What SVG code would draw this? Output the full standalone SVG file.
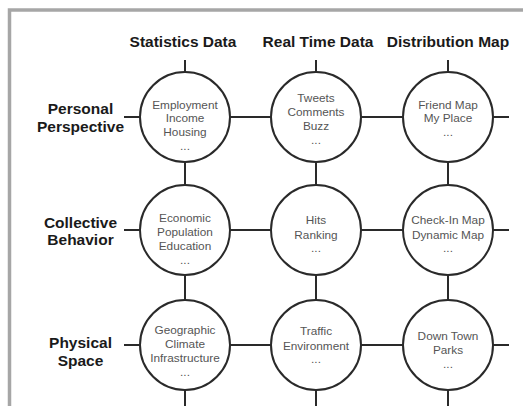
<svg xmlns="http://www.w3.org/2000/svg" width="523" height="406" viewBox="0 0 523 406">
  <style>
    .frame { stroke: #a6a6a6; stroke-width: 3.5; fill: none; }
    .head { font-family: "Liberation Sans", Arial, sans-serif; font-weight: bold; font-size: 15.5px; fill: #1a1a1a; text-anchor: middle; }
    .node circle { fill: #ffffff; stroke: #2a2a2a; stroke-width: 2; }
    .node text { font-family: "Liberation Sans", Arial, sans-serif; font-size: 11.8px; fill: #555555; text-anchor: middle; }
    .conn line { stroke: #2a2a2a; stroke-width: 2; }
  </style>

  <rect width="523" height="406" fill="#ffffff"/>

  <!-- outer frame, open to the right and bottom -->
  <polyline class="frame" points="9.5,406 9.5,10 523,10"/>

  <!-- column headings -->
  <g id="col-headings">
    <text class="head" x="183" y="47">Statistics Data</text>
    <text class="head" x="318" y="47">Real Time Data</text>
    <text class="head" x="448" y="47">Distribution Map</text>
  </g>

  <!-- row headings -->
  <g id="row-headings">
    <text class="head" x="80.5" y="114">Personal</text>
    <text class="head" x="80.5" y="132">Perspective</text>
    <text class="head" x="80.5" y="228">Collective</text>
    <text class="head" x="80.5" y="245">Behavior</text>
    <text class="head" x="80.5" y="348">Physical</text>
    <text class="head" x="80.5" y="366">Space</text>
  </g>

  <!-- grid connectors -->
  <g id="connectors" class="conn">
    <!-- row 1 -->
    <line x1="124" y1="117" x2="140" y2="117"/>
    <line x1="230" y1="117" x2="271" y2="117"/>
    <line x1="361" y1="117" x2="403" y2="117"/>
    <line x1="493" y1="117" x2="509" y2="117"/>
    <!-- row 2 -->
    <line x1="124" y1="230" x2="140" y2="230"/>
    <line x1="230" y1="230" x2="271" y2="230"/>
    <line x1="361" y1="230" x2="403" y2="230"/>
    <line x1="493" y1="230" x2="509" y2="230"/>
    <!-- row 3 -->
    <line x1="124" y1="345" x2="140" y2="345"/>
    <line x1="230" y1="345" x2="271" y2="345"/>
    <line x1="361" y1="345" x2="403" y2="345"/>
    <line x1="493" y1="345" x2="509" y2="345"/>
    <!-- column 1 -->
    <line x1="185" y1="60" x2="185" y2="72"/>
    <line x1="185" y1="162" x2="185" y2="185"/>
    <line x1="185" y1="275" x2="185" y2="300"/>
    <line x1="185" y1="390" x2="185" y2="406"/>
    <!-- column 2 -->
    <line x1="316" y1="60" x2="316" y2="72"/>
    <line x1="316" y1="162" x2="316" y2="185"/>
    <line x1="316" y1="275" x2="316" y2="300"/>
    <line x1="316" y1="390" x2="316" y2="406"/>
    <!-- column 3 -->
    <line x1="448" y1="60" x2="448" y2="72"/>
    <line x1="448" y1="162" x2="448" y2="185"/>
    <line x1="448" y1="275" x2="448" y2="300"/>
    <line x1="448" y1="390" x2="448" y2="406"/>
  </g>

  <!-- row 1 nodes -->
  <g id="node-personal-statistics" class="node">
    <circle cx="185" cy="117" r="45"/>
    <text x="185" y="109">Employment</text>
    <text x="185" y="122">Income</text>
    <text x="185" y="136">Housing</text>
    <text x="185" y="150">...</text>
  </g>
  <g id="node-personal-realtime" class="node">
    <circle cx="316" cy="117" r="45"/>
    <text x="316" y="102">Tweets</text>
    <text x="316" y="116">Comments</text>
    <text x="316" y="130">Buzz</text>
    <text x="316" y="144">...</text>
  </g>
  <g id="node-personal-distribution" class="node">
    <circle cx="448" cy="117" r="45"/>
    <text x="448" y="109">Friend Map</text>
    <text x="448" y="122">My Place</text>
    <text x="448" y="136">...</text>
  </g>

  <!-- row 2 nodes -->
  <g id="node-collective-statistics" class="node">
    <circle cx="185" cy="230" r="45"/>
    <text x="185" y="222">Economic</text>
    <text x="185" y="236">Population</text>
    <text x="185" y="250">Education</text>
    <text x="185" y="264">...</text>
  </g>
  <g id="node-collective-realtime" class="node">
    <circle cx="316" cy="230" r="45"/>
    <text x="316" y="224">Hits</text>
    <text x="316" y="239">Ranking</text>
    <text x="316" y="252">...</text>
  </g>
  <g id="node-collective-distribution" class="node">
    <circle cx="448" cy="230" r="45"/>
    <text x="448" y="224">Check-In Map</text>
    <text x="448" y="239">Dynamic Map</text>
    <text x="448" y="252">...</text>
  </g>

  <!-- row 3 nodes -->
  <g id="node-physical-statistics" class="node">
    <circle cx="185" cy="345" r="45"/>
    <text x="185" y="334">Geographic</text>
    <text x="185" y="348">Climate</text>
    <text x="185" y="362">Infrastructure</text>
    <text x="185" y="376">...</text>
  </g>
  <g id="node-physical-realtime" class="node">
    <circle cx="316" cy="345" r="45"/>
    <text x="316" y="335">Traffic</text>
    <text x="316" y="350">Environment</text>
    <text x="316" y="363">...</text>
  </g>
  <g id="node-physical-distribution" class="node">
    <circle cx="448" cy="345" r="45"/>
    <text x="448" y="340">Down Town</text>
    <text x="448" y="354">Parks</text>
    <text x="448" y="368">...</text>
  </g>
</svg>
